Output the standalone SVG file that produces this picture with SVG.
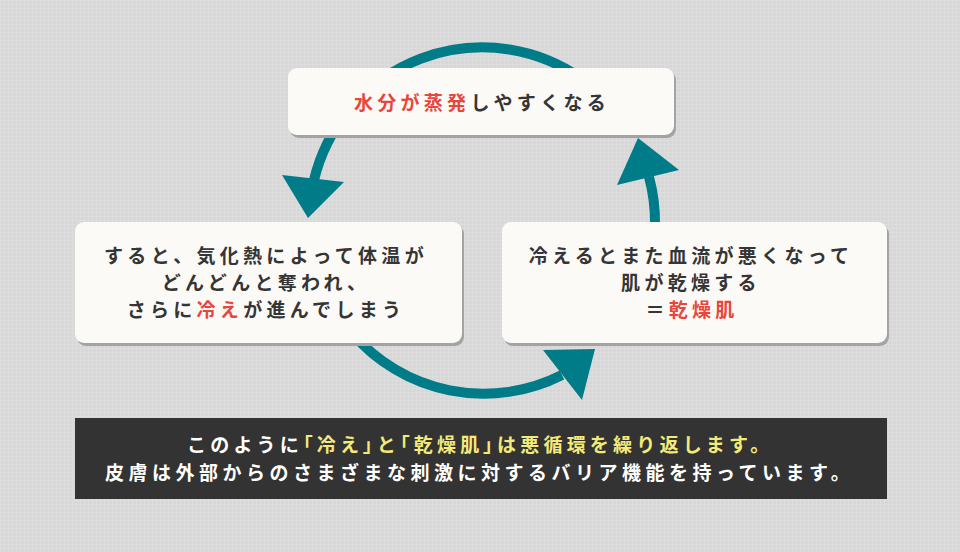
<svg xmlns="http://www.w3.org/2000/svg" width="960" height="552" viewBox="0 0 960 552">
  <style>
    .box { fill: #fcfaf6; }
    .shadow { fill: #a3a3a3; }
    .arc { fill: none; stroke: #007b88; stroke-width: 10; }
    .head { fill: #007b88; }
    .t { font-family: "Noto Sans CJK JP", "Noto Sans", sans-serif; font-weight: 700; font-size: 19px; letter-spacing: 4.3px; fill: #353535; text-anchor: middle; }
    .red { fill: #e8463c; }
    .b { font-family: "Noto Sans CJK JP", "Noto Sans", sans-serif; font-weight: 700; font-size: 19px; letter-spacing: 4.5px; fill: #ffffff; }
    .yel { fill: #f4ea78; }
    .p { font-feature-settings: "palt"; }
  </style>
  <defs>
    <pattern id="grid" width="4" height="4" patternUnits="userSpaceOnUse">
      <rect width="4" height="4" fill="#d7d7d7"/>
      <rect width="4" height="1" fill="#dddddd"/>
      <rect width="1" height="4" fill="#dddddd"/>
    </pattern>
  </defs>
  <rect width="960" height="552" fill="url(#grid)"/>

  <g id="connectors">
    <path class="arc" d="M582,79 A173,173 0 0,0 314,180"/>
    <polygon class="head" points="282,175 344,182 308,218"/>
    <path class="arc" d="M352,333 A173,173 0 0,0 562,375"/>
    <polygon class="head" points="543,350 582,400 595,349"/>
    <path class="arc" d="M655,225 A173,173 0 0,0 649,177"/>
    <polygon class="head" points="617,185 679,170 638,138"/>
  </g>

  <g id="node-top">
    <rect class="shadow" x="290" y="71" width="386" height="67" rx="9"/>
    <rect class="box" x="288" y="68" width="386" height="67" rx="9"/>
    <text class="t" x="482" y="110"><tspan class="red">水分が蒸発</tspan>しやすくなる</text>
  </g>

  <g id="node-left">
    <rect class="shadow" x="77" y="225" width="387" height="121" rx="9"/>
    <rect class="box" x="75" y="222" width="387" height="121" rx="9"/>
    <text class="t" x="266" y="263">すると、気化熱によって体温が</text>
    <text class="t" x="266" y="290">どんどんと奪われ、</text>
    <text class="t" x="266" y="316.5">さらに<tspan class="red">冷え</tspan>が進んでしまう</text>
  </g>

  <g id="node-right">
    <rect class="shadow" x="504" y="225" width="385" height="121" rx="9"/>
    <rect class="box" x="502" y="222" width="385" height="121" rx="9"/>
    <text class="t" x="691" y="263">冷えるとまた血流が悪くなって</text>
    <text class="t" x="691" y="290">肌が乾燥する</text>
    <text class="t" x="692" y="316.5">＝<tspan class="red">乾燥肌</tspan></text>
  </g>

  <g id="banner">
    <rect x="75" y="418" width="812" height="81" fill="#333333"/>
    <text class="b" x="187" y="452" style="letter-spacing:4.2px">このように<tspan class="yel p">「</tspan><tspan class="yel">冷え</tspan><tspan class="yel p">」</tspan><tspan class="yel">と</tspan><tspan class="yel p">「</tspan><tspan class="yel">乾燥肌</tspan><tspan class="yel p">」</tspan><tspan class="yel">は悪循環を繰り返します。</tspan></text>
    <text class="b" x="105" y="480">皮膚は外部からのさまざまな刺激に対するバリア機能を持っています。</text>
  </g>
</svg>
